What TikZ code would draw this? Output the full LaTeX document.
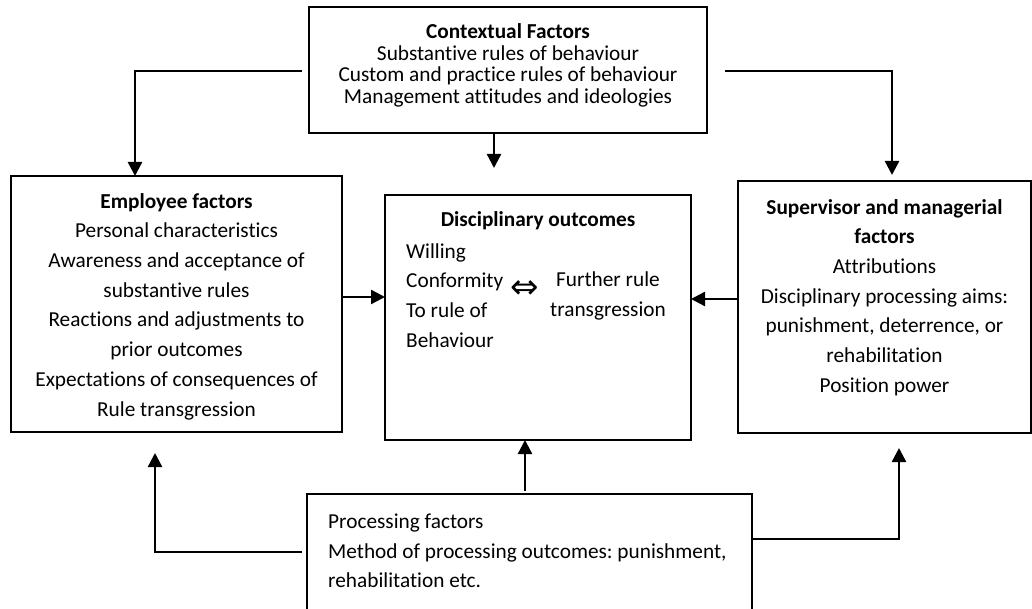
\documentclass[tikz,border=0pt]{standalone}
\usepackage{fontspec}
\setmainfont{Carlito}[Ligatures=NoCommon]
\newfontfamily\djv{DejaVu Sans}
\usetikzlibrary{arrows.meta}
\frenchspacing
\begin{document}
\begin{tikzpicture}[x=1pt,y=-1pt,
  box/.style={draw, line width=2pt, inner sep=0pt, outer sep=0pt},
  arr/.style={line width=2.4pt, -{Triangle[width=14pt,length=14pt]}},
  txt/.style={inner sep=0pt, font=\fontsize{21.3}{29.7}\selectfont, align=center},
  txtl/.style={inner sep=0pt, font=\fontsize{21.3}{29.7}\selectfont, align=left, anchor=west}]
\useasboundingbox (0,0) rectangle (1032,609);
\clip (0,0) rectangle (1032,609);
% boxes
\node[box, minimum width=398pt, minimum height=126pt] (ctx) at (508,70) {};
\node[box, minimum width=331pt, minimum height=256pt] (emp) at (176.5,304) {};
\node[box, minimum width=306pt, minimum height=245pt] (mid) at (538,317.5) {};
\node[box, minimum width=293pt, minimum height=252pt] (sup) at (884.5,307) {};
\node[box, minimum width=445pt, minimum height=126pt] (proc) at (529.5,557) {};
% texts
\node[txt, font=\fontsize{21.3}{21.7}\selectfont] (ctxT) at (508,65.5)
  {\textbf{Contextual Factors}\\Substantive rules of behaviour\\Custom and practice rules of behaviour\\Management attitudes and ideologies};
\node[txt] (empT) at (176.5,306.5)
  {\textbf{Employee factors}\\Personal characteristics\\Awareness and acceptance of\\substantive rules\\Reactions and adjustments to\\prior outcomes\\Expectations of consequences of\\Rule transgression};
\node[txt] (midT) at (538,221) {\textbf{Disciplinary outcomes}};
\node[txtl] (midL) at (406,295.5) {Willing\\Conformity\\To rule of\\Behaviour};
\node[inner sep=0pt, font=\djv\fontsize{34}{34}\selectfont] (dbl) at (525,290) {⇔};
\node[txt] (midR) at (608,296) {Further rule\\transgression};
\node[txt] (supT) at (884.5,297.5)
  {\textbf{Supervisor and managerial}\\\textbf{factors}\\Attributions\\Disciplinary processing aims:\\punishment, deterrence, or\\rehabilitation\\Position power};
\node[txtl] (procT) at (328,551) {Processing factors\\Method of processing outcomes: punishment,\\rehabilitation etc.};
% connectors
\draw[arr] ([xshift=-7pt,yshift=-1pt]ctx.west) -| ([xshift=-41.5pt]emp.north);
\draw[arr, shorten >=6pt] ([xshift=18pt,yshift=-1pt]ctx.east) -| ([xshift=7.5pt]sup.north);
\draw[arr] ([xshift=-14pt]ctx.south) -- ([xshift=-44pt,yshift=27pt]mid.north);
\draw[arr] ([yshift=7pt]emp.east) -- ([yshift=7pt]mid.west |- emp.east);
\draw[arr] ([yshift=8pt]sup.west) -- ([yshift=8pt]mid.east |- sup.west);
\draw[arr] ([xshift=-4.5pt,yshift=3pt]proc.north) -- ([xshift=-13pt]mid.south);
\draw[arr] ([xshift=-5pt,yshift=5pt]proc.west) -| ([xshift=-21.5pt,yshift=-21pt]emp.south);
\draw[arr] ([yshift=18pt]proc.east) -| ([xshift=14.5pt,yshift=-15pt]sup.south);
\end{tikzpicture}
\end{document}
